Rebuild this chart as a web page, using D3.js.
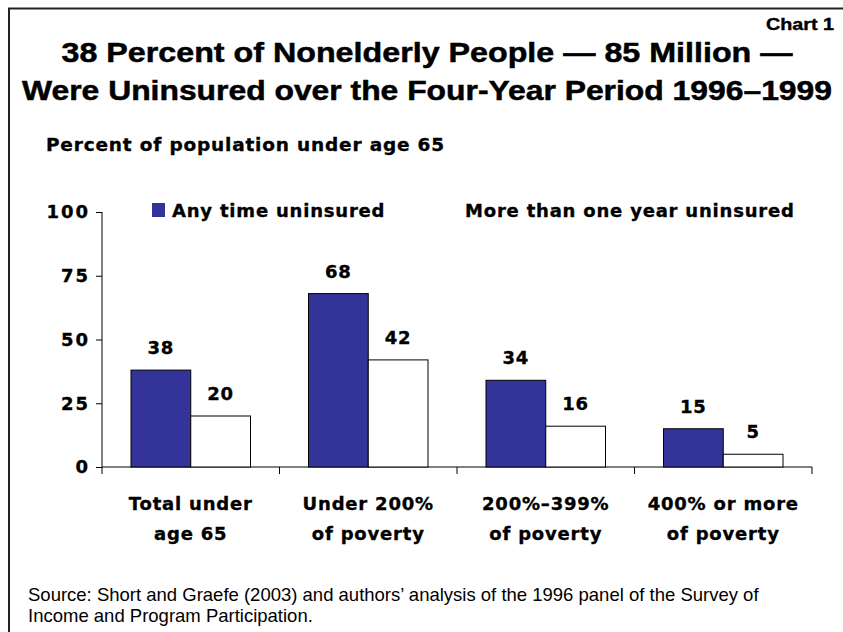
<!DOCTYPE html>
<html>
<head>
<meta charset="utf-8">
<script src="https://cdn.jsdelivr.net/npm/d3@7"></script>
<style>
  html, body { margin: 0; padding: 0; background: #fff; }
  svg { display: block; }
</style>
</head>
<body>
<script>
// Uninsured nonelderly people, 1996–1999, by poverty level
const categories = [
  ["Total under", "age 65"],
  ["Under 200%", "of poverty"],
  ["200%–399%", "of poverty"],
  ["400% or more", "of poverty"]
];
const seriesNames = ["Any time uninsured", "More than one year uninsured"];
const anyTime = [38, 68, 34, 15];
const moreThanYear = [20, 42, 16, 5];
const yTicks = [0, 25, 50, 75, 100];

const W = 843, H = 632;
const heavy = "'DejaVu Sans', Verdana, sans-serif";
const plain = "'Liberation Sans', Arial, sans-serif";

// wide, black label style used for all chart text
function heavyStyle(sel) {
  return sel.attr("font-family", heavy).attr("font-weight", "bold")
    .attr("font-size", 18).attr("letter-spacing", 0.8)
    .attr("fill", "#000").attr("stroke", "#000").attr("stroke-width", 0.35);
}

const svg = d3.select("body").append("svg")
  .attr("width", W).attr("height", H);

// frame
svg.append("path")
  .attr("d", `M9,${H} V8.5 H${W}`)
  .attr("fill", "none").attr("stroke", "#222").attr("stroke-width", 2);

// headings
svg.append("text").attr("x", 834).attr("y", 30)
  .attr("text-anchor", "end").attr("font-family", plain)
  .attr("font-weight", "bold").attr("font-size", 17)
  .attr("stroke", "#000").attr("stroke-width", 0.4)
  .attr("textLength", 68).attr("lengthAdjust", "spacingAndGlyphs")
  .text("Chart 1");

const titleLines = [
  ["38 Percent of Nonelderly People — 85 Million —", 62, 731],
  ["Were Uninsured over the Four-Year Period 1996–1999", 100, 810]
];
titleLines.forEach(([t, y, w]) => {
  svg.append("text").attr("x", 427).attr("y", y)
    .attr("text-anchor", "middle").attr("font-family", plain)
    .attr("font-weight", "bold").attr("font-size", 28)
    .attr("stroke", "#000").attr("stroke-width", 0.5)
    .attr("textLength", w).attr("lengthAdjust", "spacingAndGlyphs")
    .text(t);
});

heavyStyle(svg.append("text").attr("x", 46).attr("y", 151))
  .attr("textLength", 399).attr("lengthAdjust", "spacingAndGlyphs")
  .text("Percent of population under age 65");

// scales
const x0 = d3.scaleBand().domain(d3.range(categories.length)).range([102, 812]);
const inset = 29;
const x1 = d3.scaleBand().domain(seriesNames)
  .range([inset, x0.bandwidth() - inset]);
const y = d3.scaleLinear().domain([0, 100]).range([467, 212]);

const colors = { [seriesNames[0]]: "#333399", [seriesNames[1]]: "#ffffff" };

// y axis
const yAxis = svg.append("g").attr("transform", "translate(102,0)")
  .call(d3.axisLeft(y).tickValues(yTicks).tickSize(6).tickPadding(8));
yAxis.select(".domain").attr("d", `M0,${y(100)}V${y(0)}`).attr("stroke", "#000");
yAxis.selectAll(".tick line").attr("stroke", "#000");
heavyStyle(yAxis.selectAll(".tick text")).attr("letter-spacing", 2)
  .attr("dx", 2);

// x axis with ticks at category boundaries
const xAxis = svg.append("g").attr("transform", `translate(0,${y(0)})`);
xAxis.append("line").attr("x1", 102).attr("x2", 812)
  .attr("stroke", "#000");
const bounds = d3.range(categories.length + 1)
  .map(i => i < categories.length ? x0(i) : x0(i - 1) + x0.bandwidth());
xAxis.selectAll("line.tk").data(bounds).join("line").attr("class", "tk")
  .attr("x1", d => d).attr("x2", d => d).attr("y1", 0).attr("y2", 7)
  .attr("stroke", "#000");

// category labels
const catG = svg.append("g");
categories.forEach((lines, i) => {
  const cx = x0(i) + x0.bandwidth() / 2;
  lines.forEach((t, j) => {
    heavyStyle(catG.append("text").attr("x", cx).attr("y", 510 + j * 30))
      .attr("text-anchor", "middle")
      .text(t);
  });
});

// bars
const rows = categories.map((c, i) => ({
  i, values: [
    { key: seriesNames[0], v: anyTime[i] },
    { key: seriesNames[1], v: moreThanYear[i] }
  ]
}));

const groups = svg.selectAll("g.grp").data(rows).join("g")
  .attr("class", "grp")
  .attr("transform", d => `translate(${x0(d.i)},0)`);

groups.selectAll("rect").data(d => d.values).join("rect")
  .attr("x", d => x1(d.key))
  .attr("y", d => y(d.v))
  .attr("width", x1.bandwidth())
  .attr("height", d => y(0) - y(d.v))
  .attr("fill", d => colors[d.key])
  .attr("stroke", "#000").attr("stroke-width", 1);

heavyStyle(groups.selectAll("text.val").data(d => d.values).join("text")
  .attr("class", "val")
  .attr("x", d => x1(d.key) + x1.bandwidth() / 2)
  .attr("y", d => y(d.v) - 16))
  .attr("text-anchor", "middle")
  .text(d => d.v);

// legend
const legendX = [152, 445];
const leg = svg.selectAll("g.leg").data(seriesNames).join("g")
  .attr("class", "leg")
  .attr("transform", (d, i) => `translate(${legendX[i]},203)`);
leg.append("rect").attr("width", 13).attr("height", 14)
  .attr("fill", d => colors[d]);
heavyStyle(leg.append("text").attr("x", 20).attr("y", 14))
  .text(d => d);

// source note
const note = [
  "Source: Short and Graefe (2003) and authors’ analysis of the 1996 panel of the Survey of",
  "Income and Program Participation."
];
note.forEach((t, j) => {
  svg.append("text").attr("x", 28).attr("y", 601 + j * 21)
    .attr("font-family", plain).attr("font-size", 18.5)
    .attr("fill", "#000").text(t);
});
</script>
</body>
</html>
